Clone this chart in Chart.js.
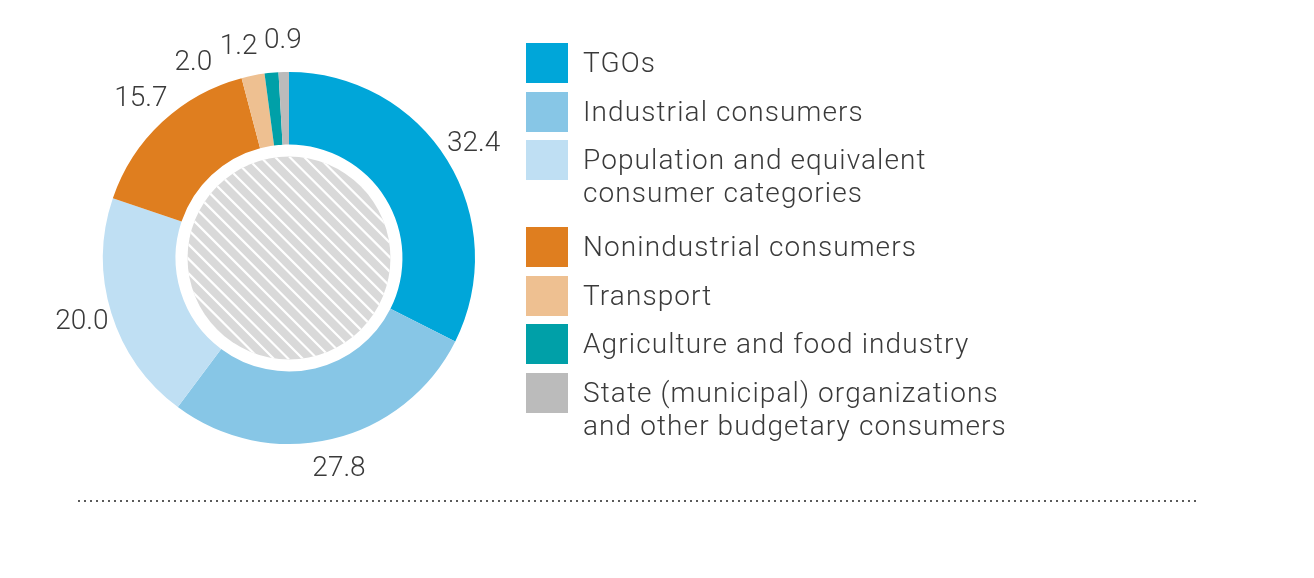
<!DOCTYPE html>
<html>
<head>
<meta charset="utf-8">
<script src="https://cdn.jsdelivr.net/npm/chart.js@4/dist/chart.umd.min.js"></script>
<style>
  html, body { margin: 0; padding: 0; background: #fff; }
  body { width: 1314px; height: 578px; position: relative; overflow: hidden; font-family: Roboto, "Noto Sans", sans-serif; }
  #chartWrap { position: absolute; left: 0; top: 0; width: 578px; height: 500px; }
  #legend { position: absolute; left: 526px; top: 43px; }
  .item { display: flex; align-items: flex-start; margin-bottom: 8.5px; }
  .item.wrapped { margin-bottom: 18px; }
  .box { width: 42px; height: 40px; flex: none; }
  .text { margin-left: 15px; font-weight: 300; font-size: 28px; line-height: 33px; padding-top: 3px; color: #3a3a3a; white-space: nowrap; letter-spacing: 1.1px; }
  #rule { position: absolute; left: 78px; top: 500px; width: 1120px; height: 2px;
    background: repeating-linear-gradient(to right, #5a5a5a 0 1.6px, transparent 1.6px 6px); }
</style>
</head>
<body>
<div id="chartWrap"><canvas id="donut"></canvas></div>
<div id="legend"></div>
<div id="rule"></div>
<script>
// categories (legend text, multi-line where the reference wraps)
const categories = [
  'TGOs',
  'Industrial consumers',
  ['Population and equivalent', 'consumer categories'],
  'Nonindustrial consumers',
  'Transport',
  'Agriculture and food industry',
  ['State (municipal) organizations', 'and other budgetary consumers']
];
const shares = [32.4, 27.8, 20.0, 15.7, 2.0, 1.2, 0.9];
const colors = ['#00a6d9', '#87c6e6', '#bfdff3', '#df7e1f', '#eec091', '#00a0a8', '#bbbbbb'];

// legend
const legend = document.getElementById('legend');
categories.forEach((label, i) => {
  const lines = Array.isArray(label) ? label : [label];
  const row = document.createElement('div');
  row.className = 'item' + (lines.length > 1 ? ' wrapped' : '');
  row.innerHTML = '<div class="box" style="background:' + colors[i] + '"></div>' +
    '<div class="text">' + lines.join('<br>') + '</div>';
  legend.appendChild(row);
});

// hatched disc in the hole of the doughnut
const centerHatch = {
  id: 'centerHatch',
  afterDatasetsDraw(chart) {
    const arc = chart.getDatasetMeta(0).data[0];
    if (!arc) return;
    const { x, y, innerRadius } = arc.getProps(['x', 'y', 'innerRadius'], true);
    const r = innerRadius - 12;
    const ctx = chart.ctx;
    ctx.save();
    ctx.beginPath();
    ctx.arc(x, y, r, 0, Math.PI * 2);
    ctx.fillStyle = '#d9d9d9';
    ctx.fill();
    ctx.clip();
    ctx.strokeStyle = '#ffffff';
    ctx.lineWidth = 2.2;
    const step = 14.5;
    for (let k = -2 * r; k <= 2 * r; k += step) {
      ctx.beginPath();
      ctx.moveTo(x + k - r, y - r);
      ctx.lineTo(x + k + r, y + r);
      ctx.stroke();
    }
    ctx.restore();
  }
};

// value labels outside the ring, small neighbours pushed apart
const outsideLabels = {
  id: 'outsideLabels',
  afterDraw(chart) {
    const ctx = chart.ctx;
    const arcs = chart.getDatasetMeta(0).data;
    const values = chart.data.datasets[0].data;
    ctx.save();
    ctx.font = '300 28px Roboto, "Noto Sans", sans-serif';
    ctx.fillStyle = '#3a3a3a';
    ctx.textAlign = 'center';
    ctx.textBaseline = 'middle';
    const placed = [];
    const h = 22;
    for (let i = arcs.length - 1; i >= 0; i--) {
      const p = arcs[i].getProps(['x', 'y', 'startAngle', 'endAngle', 'outerRadius'], true);
      const text = values[i].toFixed(1);
      const w = ctx.measureText(text).width;
      let a = (p.startAngle + p.endAngle) / 2;
      const d = p.outerRadius + 31;
      let box;
      for (let tries = 0; tries < 90; tries++) {
        const cx = p.x + Math.cos(a) * d, cy = p.y + Math.sin(a) * d;
        box = { cx, cy, l: cx - w / 2, r: cx + w / 2, t: cy - h / 2, b: cy + h / 2 };
        const hit = placed.some(o => box.l < o.r + 5 && box.r > o.l - 5 && box.t < o.b && box.b > o.t);
        if (!hit) break;
        a -= Math.PI / 180;
      }
      placed.push(box);
      ctx.fillText(text, box.cx, box.cy);
    }
    ctx.restore();
  }
};

new Chart(document.getElementById('donut'), {
  type: 'doughnut',
  data: {
    labels: categories,
    datasets: [{
      data: shares,
      backgroundColor: colors,
      borderWidth: 0,
      hoverOffset: 0
    }]
  },
  options: {
    responsive: true,
    maintainAspectRatio: false,
    animation: false,
    events: [],
    cutout: '61%',
    layout: { padding: { left: 103, right: 103, top: 72, bottom: 56 } },
    plugins: {
      legend: { display: false },
      tooltip: { enabled: false }
    }
  },
  plugins: [centerHatch, outsideLabels]
});
</script>
</body>
</html>
